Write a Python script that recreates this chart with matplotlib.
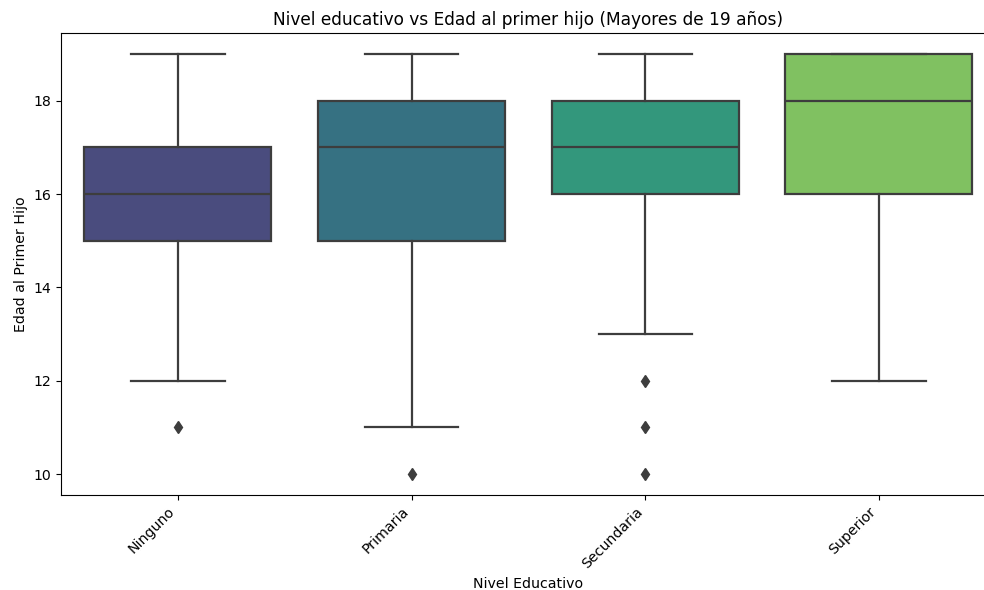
import colorsys
import numpy as np
import matplotlib
matplotlib.use("Agg")
from matplotlib import pyplot as plt

# education levels and the age at first child summary per level
niveles = ["Ninguno", "Primaria", "Secundaria", "Superior"]
whis_lo = [12, 11, 13, 12]
q1 = [15, 15, 16, 16]
mediana = [16, 17, 17, 18]
q3 = [17, 18, 18, 19]
whis_hi = [19, 19, 19, 19]
atipicos = [[11], [10], [10, 11, 12], []]

# viridis sampled like seaborn, then desaturated to 0.75
cmap = plt.get_cmap("viridis")
colores = []
for v in np.linspace(0, 1, len(niveles) + 2)[1:-1]:
    r, g, b, _ = cmap(v)
    h, l, s = colorsys.rgb_to_hls(r, g, b)
    colores.append(colorsys.hls_to_rgb(h, l, s * 0.75))

stats = []
for i in range(len(niveles)):
    stats.append(dict(whislo=whis_lo[i], q1=q1[i], med=mediana[i], q3=q3[i],
                      whishi=whis_hi[i], fliers=atipicos[i], label=niveles[i]))

plt.rcParams['font.size'] = 10.2
gris = "#3d3d3d"
fig = plt.figure(figsize=(9.84, 5.9), dpi=100)
# axes run a bit past the right edge of the saved image
ax = fig.add_axes([0.062, 0.161, 0.950, 0.783])
pos = np.arange(len(niveles))
bp = ax.bxp(stats, positions=pos, widths=0.8, patch_artist=True,
            boxprops=dict(edgecolor=gris, linewidth=1.6),
            medianprops=dict(color=gris, linewidth=1.6),
            whiskerprops=dict(color=gris, linewidth=1.6),
            capprops=dict(color=gris, linewidth=1.6),
            flierprops=dict(marker="d", markerfacecolor=gris, markeredgecolor=gris,
                            markersize=6))
for patch, c in zip(bp["boxes"], colores):
    patch.set_facecolor(c)

ax.set_xlim(-0.5, len(niveles) - 0.5)
ax.set_ylim(9.55, 19.45)
ax.set_xticks(pos)
ax.set_xticklabels(niveles, rotation=45, ha="right")
ax.set_yticks([10, 12, 14, 16, 18])
ax.set_title("Nivel educativo vs Edad al primer hijo (Mayores de 19 años)")
ax.set_xlabel("Nivel Educativo")
ax.set_ylabel("Edad al Primer Hijo")
plt.savefig("out.png")
